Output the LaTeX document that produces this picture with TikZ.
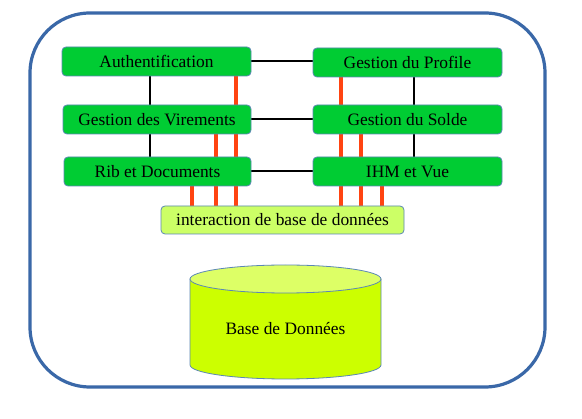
\documentclass[tikz,border=0pt]{standalone}
\usepackage{fontspec}
\setmainfont{Liberation Serif}
\usetikzlibrary{backgrounds}
\definecolor{boxgreen}{HTML}{00CC33}
\definecolor{boxedge}{HTML}{5B87B5}
\definecolor{outerblue}{HTML}{3A68A8}
\definecolor{redline}{HTML}{FF4411}
\definecolor{limebody}{HTML}{CCFF00}
\definecolor{limetop}{HTML}{DDFF66}
\definecolor{interfill}{HTML}{CCFF66}
\begin{document}
\begin{tikzpicture}[x=1pt,y=-1pt,
  font=\fontsize{17.4}{19}\selectfont,
  modbox/.style={draw=boxedge, line width=0.8pt, fill=boxgreen, rounded corners=4pt,
    minimum height=29pt, inner sep=0pt},
  interbox/.style={draw=boxedge, line width=0.8pt, fill=interfill, rounded corners=4pt,
    minimum height=28pt, inner sep=0pt},
  blackline/.style={draw=black, line width=2pt},
  redlink/.style={draw=redline, line width=4pt}]
\useasboundingbox (0,0) rectangle (582,419);
\draw[outerblue, line width=3.2pt, rounded corners=60pt] (30,13) rectangle (545,387);

\node[modbox, minimum width=189pt] (auth) at (156.5,61.5) {Authentification};
\node[modbox, minimum width=188pt] (vir) at (157,119.5) {Gestion des Virements};
\node[modbox, minimum width=187pt] (rib) at (157.5,171.5) {Rib et Documents};
\node[modbox, minimum width=189pt] (prof) at (407.5,62.5) {Gestion du Profile};
\node[modbox, minimum width=189pt] (solde) at (407.5,119.5) {Gestion du Solde};
\node[modbox, minimum width=189pt] (ihm) at (407.5,171.5) {IHM et Vue};
\node[interbox, minimum width=243pt] (inter) at (282.5,220) {interaction de base de données};

\begin{scope}[on background layer]
  \fill[white] (0,0) rectangle (582,419);
  \draw[blackline] (auth.east) -- (auth.east -| prof.west);
  \draw[blackline] (vir.east) -- (vir.east -| solde.west);
  \draw[blackline] (rib.east) -- (rib.east -| ihm.west);
  \draw[blackline] ([xshift=-6.5pt]auth.south) -- ([xshift=-6.5pt]auth.south |- vir.north);
  \draw[blackline] ([xshift=-7pt]vir.south) -- ([xshift=-7pt]vir.south |- rib.north);
  \draw[blackline] ([xshift=6.5pt]prof.south) -- ([xshift=6.5pt]prof.south |- solde.north);
  \draw[blackline] ([xshift=6.5pt]solde.south) -- ([xshift=6.5pt]solde.south |- ihm.north);
  \draw[redlink] ([xshift=79.5pt]auth.south) -- ([xshift=79.5pt]auth.south |- inter.north);
  \draw[redlink] ([xshift=59pt]vir.south) -- ([xshift=59pt]vir.south |- inter.north);
  \draw[redlink] ([xshift=34.5pt]rib.south) -- ([xshift=34.5pt]rib.south |- inter.north);
  \draw[redlink] ([xshift=-66.5pt]prof.south) -- ([xshift=-66.5pt]prof.south |- inter.north);
  \draw[redlink] ([xshift=-46.5pt]solde.south) -- ([xshift=-46.5pt]solde.south |- inter.north);
  \draw[redlink] ([xshift=-25.5pt]ihm.south) -- ([xshift=-25.5pt]ihm.south |- inter.north);
\end{scope}

% database cylinder
\filldraw[fill=limebody, draw=boxedge, line width=0.8pt]
  (190,279) -- (190,365) arc[start angle=180, end angle=0, x radius=95.5, y radius=14] -- (381,279);
\filldraw[fill=limetop, draw=boxedge, line width=0.8pt] (285.5,279) ellipse[x radius=95.5, y radius=14];
\node (db) at (285.5,329) {Base de Données};
\end{tikzpicture}
\end{document}
